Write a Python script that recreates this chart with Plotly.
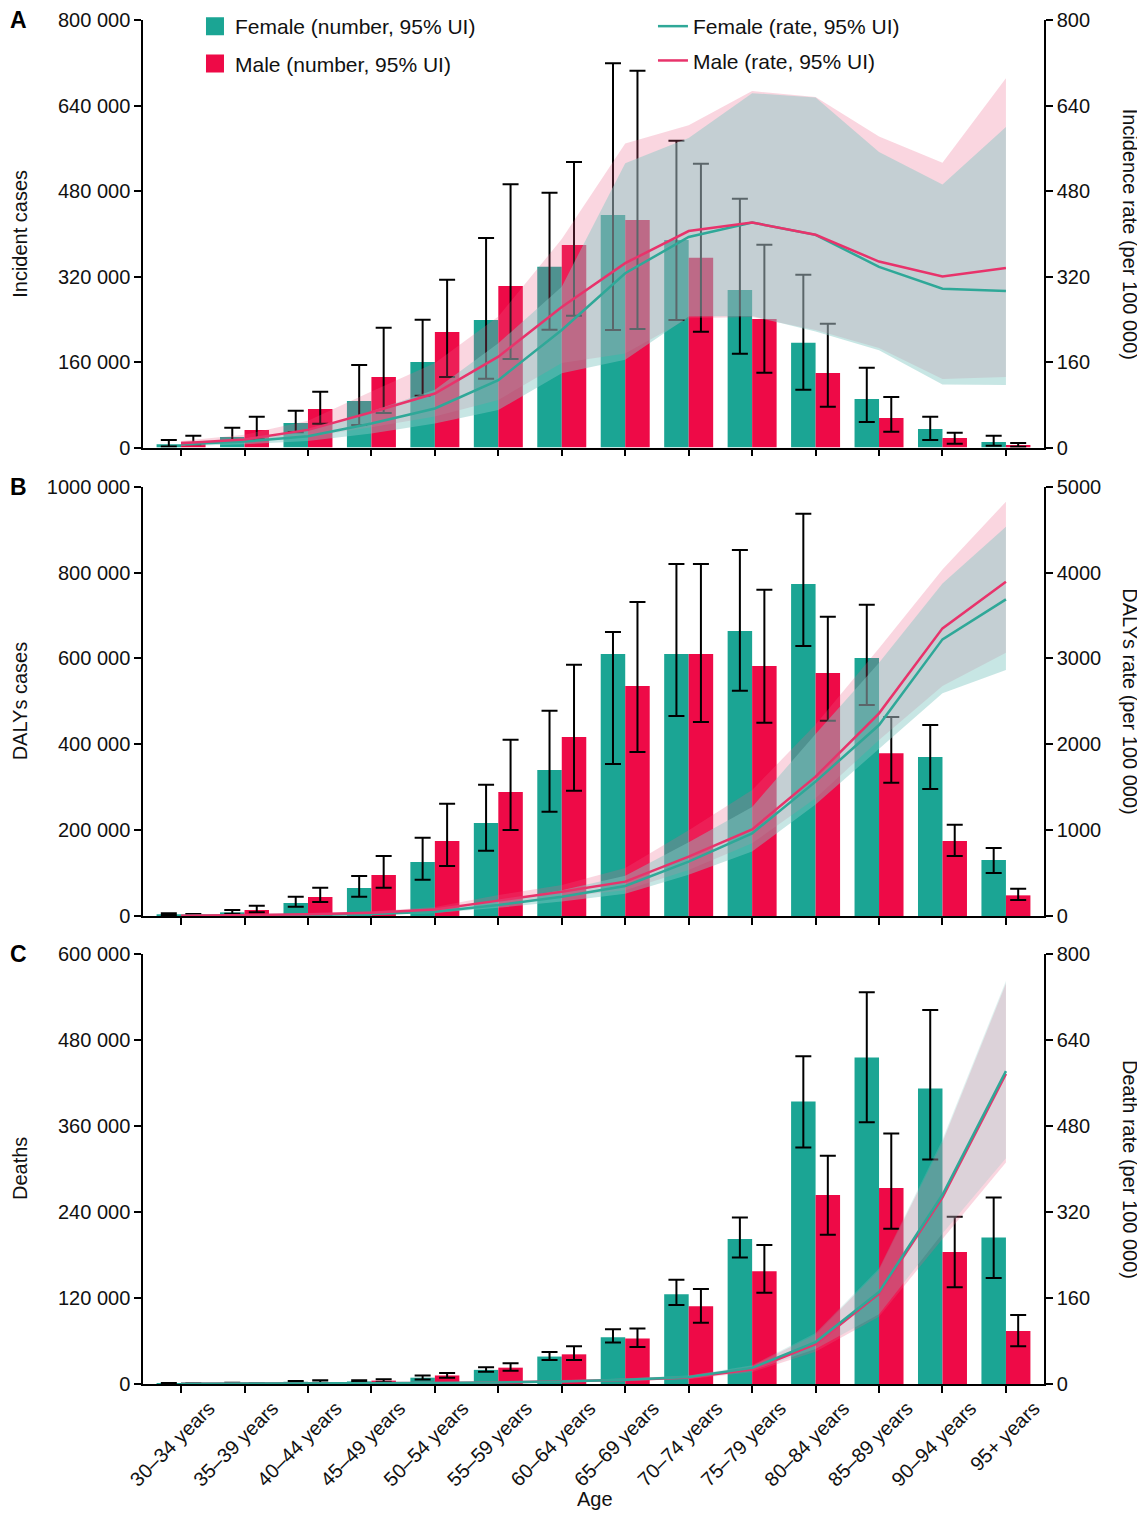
import plotly.graph_objects as go
from plotly.subplots import make_subplots

ages = ["30–34 years", "35–39 years", "40–44 years", "45–49 years", "50–54 years",
        "55–59 years", "60–64 years", "65–69 years", "70–74 years", "75–79 years",
        "80–84 years", "85–89 years", "90–94 years", "95+ years"]

# ---------- Panel A: incidence ----------
A_f = [6000, 19600, 45800, 87000, 160000, 238600, 338400, 435100, 388300, 294700, 196100, 90800, 34600, 10300]
A_f_lo = [2000, 12000, 28400, 42100, 97000, 128800, 220500, 219900, 238600, 175500, 108200, 47700, 14000, 3400]
A_f_hi = [14000, 37000, 68900, 154400, 239200, 392100, 476900, 719000, 574200, 465600, 323400, 149300, 57600, 22000]
A_m = [10900, 32700, 72000, 131900, 216100, 302200, 379000, 425700, 355200, 240500, 139400, 55200, 17800, 4700]
A_m_lo = [6000, 16000, 44600, 64600, 131900, 165600, 246700, 221800, 216700, 140000, 76400, 29600, 7100, 1500]
A_m_hi = [22000, 57600, 104400, 224200, 314000, 492500, 534300, 705200, 531100, 379500, 231700, 94500, 27700, 8400]
A_fr = [6, 11, 21, 45, 73, 126, 220, 326, 394, 421, 398, 338, 297, 293]
A_fr_lo = [3, 6, 12, 26, 45, 70, 139, 164, 245, 246, 217, 182, 118, 117]
A_fr_hi = [10, 17, 32, 68, 108, 195, 301, 532, 579, 663, 655, 553, 492, 600]
A_mr = [8, 15, 33, 66, 101, 170, 263, 345, 405, 421, 398, 348, 320, 336]
A_mr_lo = [5, 9, 20, 38, 58, 89, 158, 176, 242, 244, 220, 186, 128, 132]
A_mr_hi = [12, 24, 50, 105, 158, 245, 390, 569, 603, 667, 656, 582, 533, 691]

# ---------- Panel B: DALYs ----------
B_f = [4000, 8500, 30300, 65200, 125800, 216600, 340100, 610300, 610300, 663800, 773300, 601000, 370400, 130400]
B_f_lo = [2500, 5400, 21700, 45000, 84600, 152200, 243000, 354000, 465800, 524800, 628900, 491500, 295800, 100200]
B_f_hi = [6500, 14000, 45000, 93200, 182500, 305900, 478300, 661500, 819900, 852500, 937100, 725200, 444900, 158400]
B_m = [3000, 14000, 44300, 95500, 174700, 288800, 416900, 535700, 610300, 582300, 566000, 378900, 174700, 48100]
B_m_lo = [2000, 8500, 32600, 66000, 116500, 200300, 291900, 382000, 451900, 450300, 455000, 310600, 139800, 37300]
B_m_hi = [4500, 24000, 66000, 139800, 261600, 410700, 585400, 731400, 819900, 760100, 697200, 463500, 212700, 63700]
B_fr = [3, 5, 12, 23, 50, 128, 225, 349, 633, 963, 1565, 2224, 3222, 3688]
B_fr_lo = [2, 3, 8, 16, 35, 95, 170, 260, 480, 750, 1300, 1950, 2593, 2865]
B_fr_hi = [4, 8, 17, 33, 70, 175, 300, 470, 860, 1270, 2120, 2950, 3874, 4534]
B_mr = [4, 8, 19, 39, 75, 179, 283, 400, 691, 1009, 1623, 2360, 3350, 3894]
B_mr_lo = [3, 5, 13, 27, 52, 130, 220, 300, 536, 846, 1370, 2050, 2679, 3067]
B_mr_hi = [6, 12, 27, 55, 105, 245, 360, 560, 1000, 1467, 2230, 3117, 4037, 4825]

# ---------- Panel C: deaths ----------
C_f = [1000, 1200, 3100, 3600, 8800, 19700, 38300, 65200, 125200, 202200, 394100, 455600, 412200, 204300]
C_f_lo = [600, 800, 2200, 2600, 6200, 17100, 33600, 57900, 110200, 176400, 330000, 365100, 313400, 147900]
C_f_hi = [1500, 1700, 4100, 5200, 11900, 23300, 44500, 76500, 145300, 232200, 457200, 546700, 521800, 260100]
C_m = [600, 800, 2600, 4700, 11900, 22800, 41400, 63600, 108600, 157200, 263800, 273600, 184100, 74000]
C_m_lo = [400, 500, 1800, 2600, 8800, 18600, 33600, 51700, 85300, 127200, 208400, 216700, 135000, 52800]
C_m_hi = [900, 1100, 5200, 6700, 15500, 29000, 52800, 77600, 132400, 193900, 318600, 349600, 233300, 96200]
C_fr = [0.3, 0.5, 0.8, 1.2, 1.8, 2.8, 4.5, 8, 13, 30, 78, 171, 352, 582]
C_fr_lo = [0.2, 0.3, 0.5, 0.8, 1.3, 2, 3.3, 6, 10, 25, 65, 130, 280, 420]
C_fr_hi = [0.5, 0.7, 1.1, 1.7, 2.5, 3.8, 6, 10.5, 16, 35, 95, 215, 455, 750]
C_mr = [0.3, 0.5, 0.8, 1.2, 1.8, 2.8, 4.5, 7.5, 12, 27, 74, 168, 347, 577]
C_mr_lo = [0.2, 0.3, 0.5, 0.8, 1.3, 2, 3.2, 5.5, 9, 22, 60, 125, 270, 412]
C_mr_hi = [0.5, 0.7, 1.1, 1.7, 2.5, 3.8, 6, 10, 15, 33, 92, 212, 450, 745]

# ---------- axis ticks ----------
A_left_ticks = [0, 160000, 320000, 480000, 640000, 800000]
A_left_text = ["0", "160 000", "320 000", "480 000", "640 000", "800 000"]
A_right_ticks = [0, 160, 320, 480, 640, 800]
B_left_ticks = [0, 200000, 400000, 600000, 800000, 1000000]
B_left_text = ["0", "200 000", "400 000", "600 000", "800 000", "1000 000"]
B_right_ticks = [0, 1000, 2000, 3000, 4000, 5000]
C_left_ticks = [0, 120000, 240000, 360000, 480000, 600000]
C_left_text = ["0", "120 000", "240 000", "360 000", "480 000", "600 000"]
C_right_ticks = [0, 160, 320, 480, 640, 800]

TEAL = "#1ba594"
RED = "#ee0a47"
TEAL_LINE = "#2fa898"
RED_LINE = "#e8336b"
RED_BAND = "rgba(235,90,130,0.25)"
TEAL_BANDS = ["rgba(130,200,195,0.45)", "rgba(130,200,195,0.45)", "rgba(130,200,195,0.25)"]
FONT = "Liberation Sans, Arial, sans-serif"

fig = make_subplots(rows=3, cols=1, specs=[[{"secondary_y": True}]] * 3)

panels = [
    (A_f, A_f_lo, A_f_hi, A_m, A_m_lo, A_m_hi, A_fr, A_fr_lo, A_fr_hi, A_mr, A_mr_lo, A_mr_hi),
    (B_f, B_f_lo, B_f_hi, B_m, B_m_lo, B_m_hi, B_fr, B_fr_lo, B_fr_hi, B_mr, B_mr_lo, B_mr_hi),
    (C_f, C_f_lo, C_f_hi, C_m, C_m_lo, C_m_hi, C_fr, C_fr_lo, C_fr_hi, C_mr, C_mr_lo, C_mr_hi),
]


def err(v, lo, hi):
    return dict(type="data", symmetric=False,
                array=[h - x for x, h in zip(v, hi)],
                arrayminus=[x - l for x, l in zip(v, lo)],
                color="black", thickness=2, width=8)


for i, (f, flo, fhi, m, mlo, mhi, fr, frlo, frhi, mr, mrlo, mrhi) in enumerate(panels):
    row = i + 1
    first = (i == 0)
    fig.add_trace(go.Bar(x=ages, y=f, name="Female (number, 95% UI)", marker_color=TEAL,
                         marker_line_width=0, error_y=err(f, flo, fhi), showlegend=False),
                  row=row, col=1, secondary_y=False)
    fig.add_trace(go.Bar(x=ages, y=m, name="Male (number, 95% UI)", marker_color=RED,
                         marker_line_width=0, error_y=err(m, mlo, mhi), showlegend=False),
                  row=row, col=1, secondary_y=False)
    # bands
    fig.add_trace(go.Scatter(x=ages + ages[::-1], y=mrhi + mrlo[::-1], fill="toself",
                             fillcolor=RED_BAND, line=dict(width=0), mode="lines",
                             hoverinfo="skip", showlegend=False), row=row, col=1, secondary_y=True)
    fig.add_trace(go.Scatter(x=ages + ages[::-1], y=frhi + frlo[::-1], fill="toself",
                             fillcolor=TEAL_BANDS[i], line=dict(width=0), mode="lines",
                             hoverinfo="skip", showlegend=False), row=row, col=1, secondary_y=True)
    fem_line = go.Scatter(x=ages, y=fr, mode="lines", name="Female (rate, 95% UI)",
                          line=dict(color=TEAL_LINE, width=2.5), showlegend=first,
                          legend="legend2", legendgroup="fl")
    male_line = go.Scatter(x=ages, y=mr, mode="lines", name="Male (rate, 95% UI)",
                           line=dict(color=RED_LINE, width=2.5), showlegend=first,
                           legend="legend2", legendgroup="ml")
    if i == 2:
        fig.add_trace(male_line, row=row, col=1, secondary_y=True)
        fig.add_trace(fem_line, row=row, col=1, secondary_y=True)
    else:
        fig.add_trace(fem_line, row=row, col=1, secondary_y=True)
        fig.add_trace(male_line, row=row, col=1, secondary_y=True)

# legend-only square swatches for the bar series
fig.add_trace(go.Scatter(x=[None], y=[None], mode="markers", name="Female (number, 95% UI)",
                         marker=dict(symbol="square", size=16, color=TEAL, line=dict(color=TEAL, width=2)),
                         legend="legend", legendgroup="fb"), row=1, col=1, secondary_y=False)
fig.add_trace(go.Scatter(x=[None], y=[None], mode="markers", name="Male (number, 95% UI)",
                         marker=dict(symbol="square", size=16, color=RED, line=dict(color=RED, width=2)),
                         legend="legend", legendgroup="mb"), row=1, col=1, secondary_y=False)

# ---------- layout ----------
# page body has an 8px margin: figure placed at (8, 8)
H_PLOT = 1364.0
domA = [1 - 427.5 / H_PLOT, 1.0]
domB = [1 - 896.0 / H_PLOT, 1 - 466.7 / H_PLOT]
domC = [0.0, 1 - 934.0 / H_PLOT]

axis_common = dict(showline=True, linecolor="black", linewidth=1.5, ticks="outside",
                   ticklen=7, tickwidth=1.5, tickcolor="black", showgrid=False,
                   zeroline=False, tickfont=dict(size=20, family=FONT, color="#111"))

xcommon = dict(axis_common, type="category", range=[-0.6, 13.6])
fig.update_layout(
    xaxis=dict(xcommon, showticklabels=False),
    xaxis2=dict(xcommon, showticklabels=False),
    xaxis3=dict(xcommon, tickangle=-45, ticklabelshift=28, ticklabelstandoff=-4),
    yaxis=dict(axis_common, domain=domA, range=[0, 800000], tickvals=A_left_ticks, ticktext=A_left_text),
    yaxis2=dict(axis_common, domain=domA, range=[0, 800], tickvals=A_right_ticks),
    yaxis3=dict(axis_common, domain=domB, range=[0, 1000000], tickvals=B_left_ticks, ticktext=B_left_text),
    yaxis4=dict(axis_common, domain=domB, range=[0, 5000], tickvals=B_right_ticks),
    yaxis5=dict(axis_common, domain=domC, range=[0, 600000], tickvals=C_left_ticks, ticktext=C_left_text),
    yaxis6=dict(axis_common, domain=domC, range=[0, 800], tickvals=C_right_ticks),
)
fig.update_xaxes(domain=[0, 1])

LEG_Y = 1 + 14.0 / H_PLOT
fig.update_layout(
    width=1137, height=1503,
    margin=dict(l=135, r=101, t=12, b=127, autoexpand=False),
    plot_bgcolor="white", paper_bgcolor="white",
    barmode="group", bargap=0.228, bargroupgap=0,
    font=dict(family=FONT, size=20, color="#111"),
    legend=dict(x=0.0577, y=LEG_Y, xanchor="left", yanchor="top", bgcolor="rgba(0,0,0,0)",
                font=dict(size=21, family=FONT), tracegroupgap=7, traceorder="grouped"),
    legend2=dict(x=0.566, y=LEG_Y, xanchor="left", yanchor="top", bgcolor="rgba(0,0,0,0)",
                 font=dict(size=21, family=FONT), tracegroupgap=4, traceorder="grouped"),
)

ann = []
left_titles = [("Incident cases", "y"), ("DALYs cases", "y3"), ("Deaths", "y5")]
right_titles = [("Incidence rate (per 100 000)", "y"), ("DALYs rate (per 100 000)", "y3"),
                ("Death rate (per 100 000)", "y5")]
letters = [("A", "y"), ("B", "y3"), ("C", "y5")]
for t, ax in left_titles:
    ann.append(dict(text=t, xref="paper", yref=ax + " domain", x=-0.1365, y=0.5, textangle=-90,
                    showarrow=False, font=dict(size=20, family=FONT), xanchor="center", yanchor="middle"))
for t, ax in right_titles:
    ann.append(dict(text=t, xref="paper", yref=ax + " domain", x=1.0955, y=0.5, textangle=90,
                    showarrow=False, font=dict(size=20, family=FONT), xanchor="center", yanchor="middle"))
for t, ax in letters:
    ann.append(dict(text="<b>" + t + "</b>", xref="paper", yref=ax + " domain", x=-0.1387, y=1.0,
                    showarrow=False, font=dict(size=23, family=FONT, color="black"),
                    xanchor="center", yanchor="middle"))
ann.append(dict(text="Age", xref="paper", yref="paper", x=0.5017, y=-0.0843, showarrow=False,
                font=dict(size=20, family=FONT), xanchor="center", yanchor="middle"))
fig.update_layout(annotations=ann)

fig.write_html("out.html")
